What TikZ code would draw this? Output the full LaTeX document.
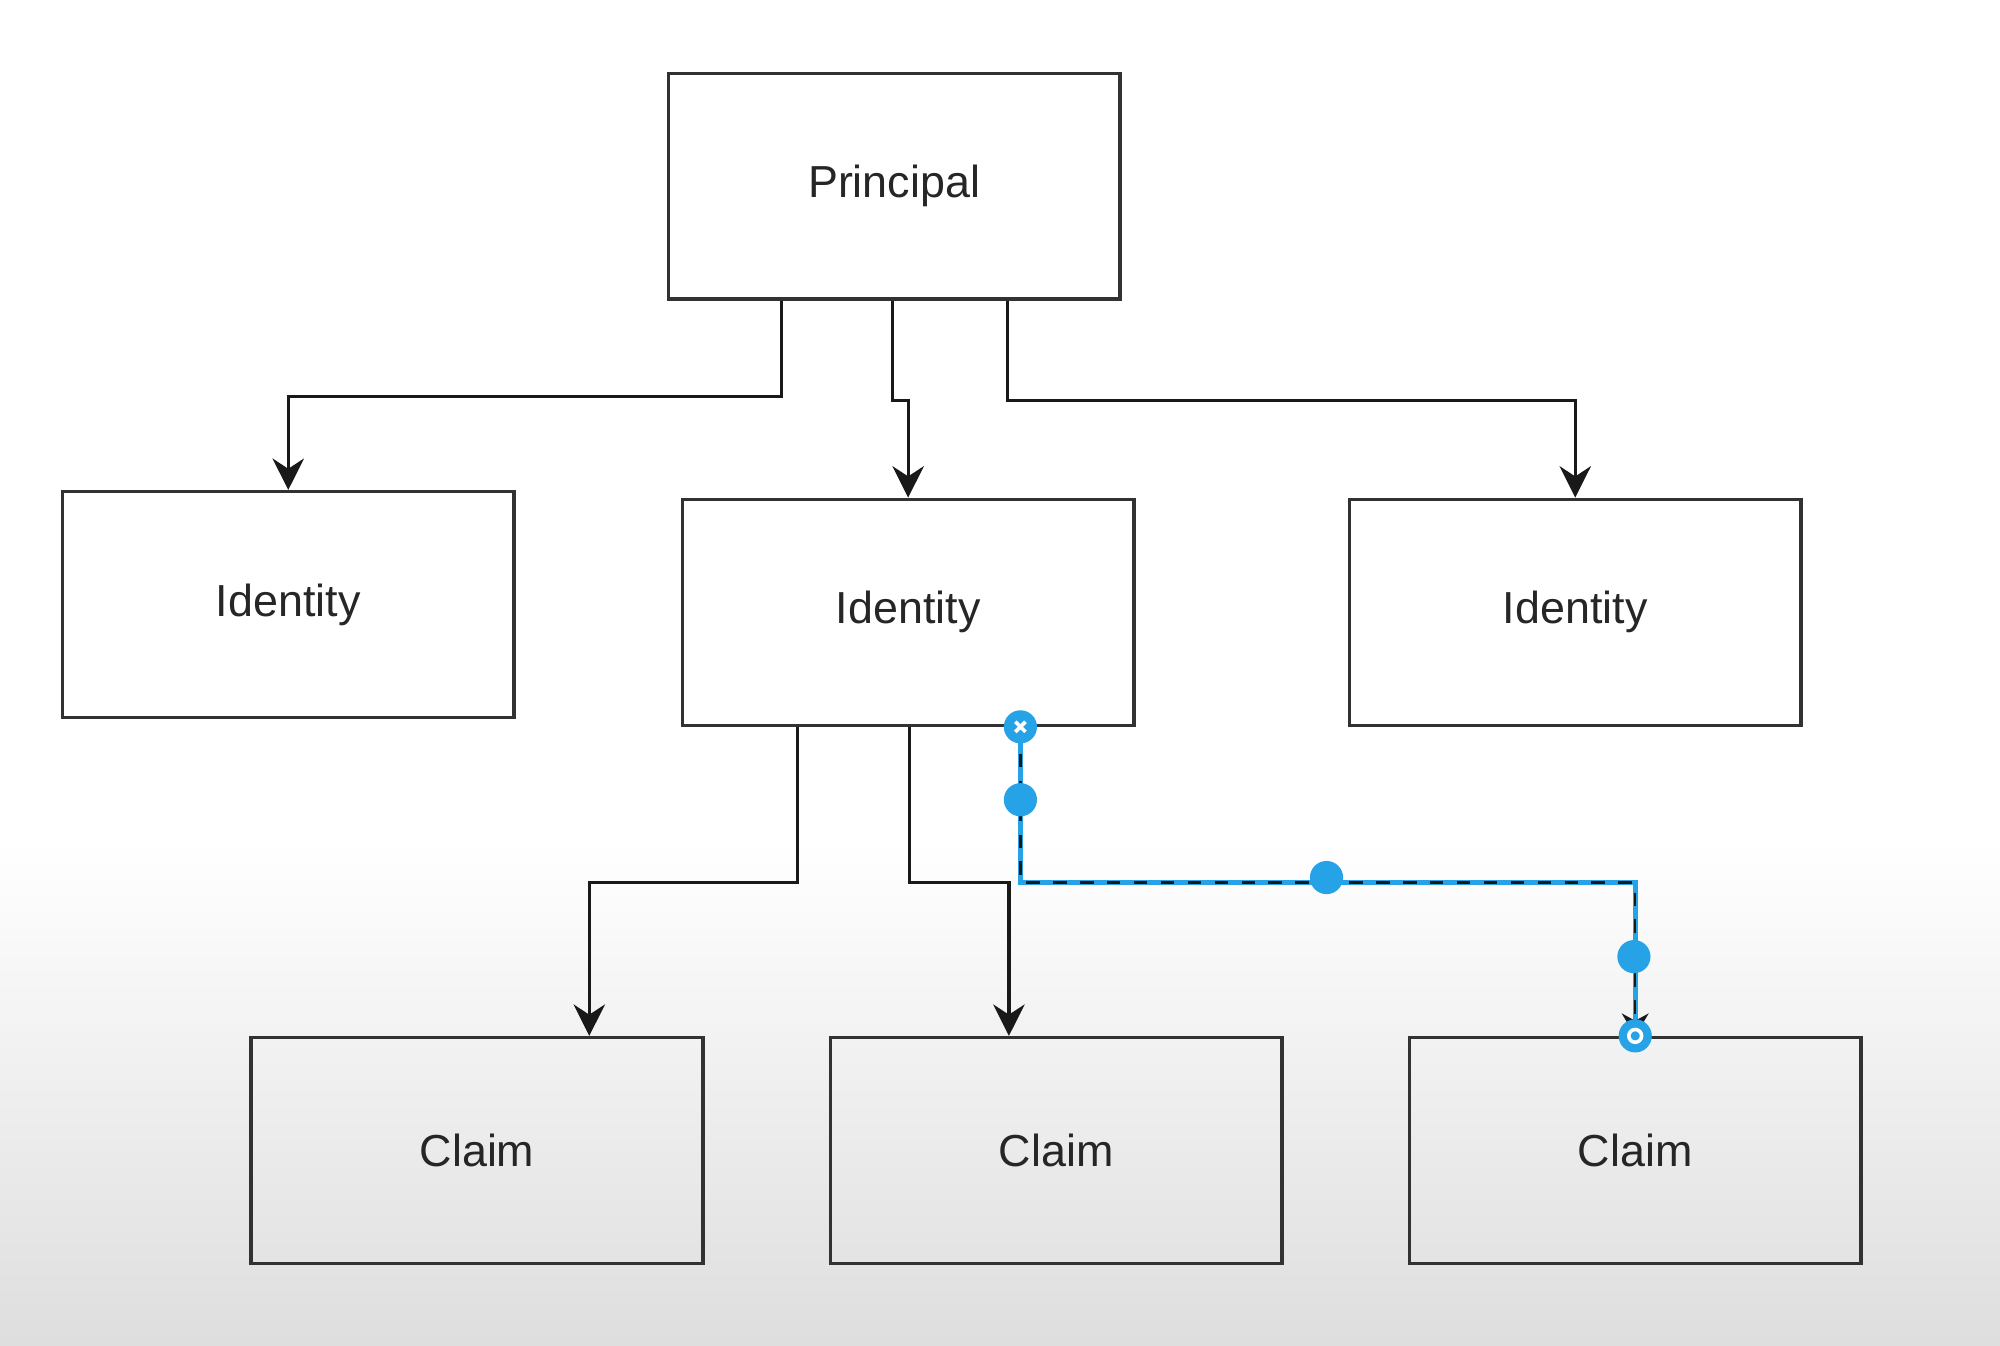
\documentclass[tikz,border=0pt]{standalone}
\usepackage{fontspec}
\setmainfont{Liberation Sans}
\usetikzlibrary{calc,arrows.meta}

\definecolor{selblue}{RGB}{38,163,230}
\definecolor{boxline}{RGB}{50,50,50}

\tikzset{
  entity/.style={draw=boxline, line width=0.75pt, minimum width=3.54cm, minimum height=1.77cm,
                 inner sep=0pt, font=\fontsize{10}{12}\selectfont, text=black!85},
  link/.style={draw=black!90, line width=0.7pt, -{Stealth[length=7pt,width=7pt]}},
  handle/.style={circle, fill=selblue, minimum size=0.26cm, inner sep=0pt}
}

\begin{document}
\begin{tikzpicture}[x=0.01cm, y=-0.01cm]

% background
\useasboundingbox (0,0) rectangle (1568,1055);
\fill[white] (0,0) rectangle (1568,1055);
\shade[top color=white, bottom color=black!13] (0,660) rectangle (1568,1055);

% principal
\node[entity] (principal) at (701,146) {Principal};

% identities
\node[entity] (id1) at (226,474) {Identity};
\node[entity] (id2) at (712,480) {Identity};
\node[entity] (id3) at (1235,480) {Identity};

% claims
\node[entity] (claim1) at (374,902) {Claim};
\node[entity] (claim2) at (828,902) {Claim};
\node[entity] (claim3) at (1282,902) {Claim};

% principal -> identities
\draw[link] ($(principal.south)+(-88,0)$) -- ++(0,75) -| (id1.north);
\draw[link] ($(principal.south)+(-1,0)$) -- ++(0,78) -| (id2.north);
\draw[link] ($(principal.south)+(89,0)$) -- ++(0,78) -| (id3.north);

% identity -> claims
\draw[link] ($(id2.south)+(-87,0)$) -- ++(0,122) -| ($(claim1.north)+(88,0)$);
\draw[link] ($(id2.south)+(1,0)$) -- ++(0,122) -| ($(claim2.north)+(-37,0)$);

% selected edge
\coordinate (selstart) at ($(id2.south)+(88,0)$);
\draw[selblue, line width=1.1pt] (selstart) -- ++(0,122) -| (claim3.north);
\draw[link, dashed, line width=0.55pt, -{Stealth[length=5pt,width=6pt]}] (selstart) -- ++(0,122) -| (claim3.north);

% handles
\node[handle] (hstart) at (selstart) {};
\draw[white, line width=0.8pt] ($(hstart)+(-4,-4)$) -- ($(hstart)+(4,4)$)
  ($(hstart)+(-4,4)$) -- ($(hstart)+(4,-4)$);
\node[handle] (h1) at (800,627) {};
\node[handle] (h2) at (1040,688) {};
\node[handle] (h3) at (1281,750) {};
\node[handle] (hend) at (claim3.north) {};
\draw[white, line width=0.8pt] (hend) circle (5);

\end{tikzpicture}
\end{document}
